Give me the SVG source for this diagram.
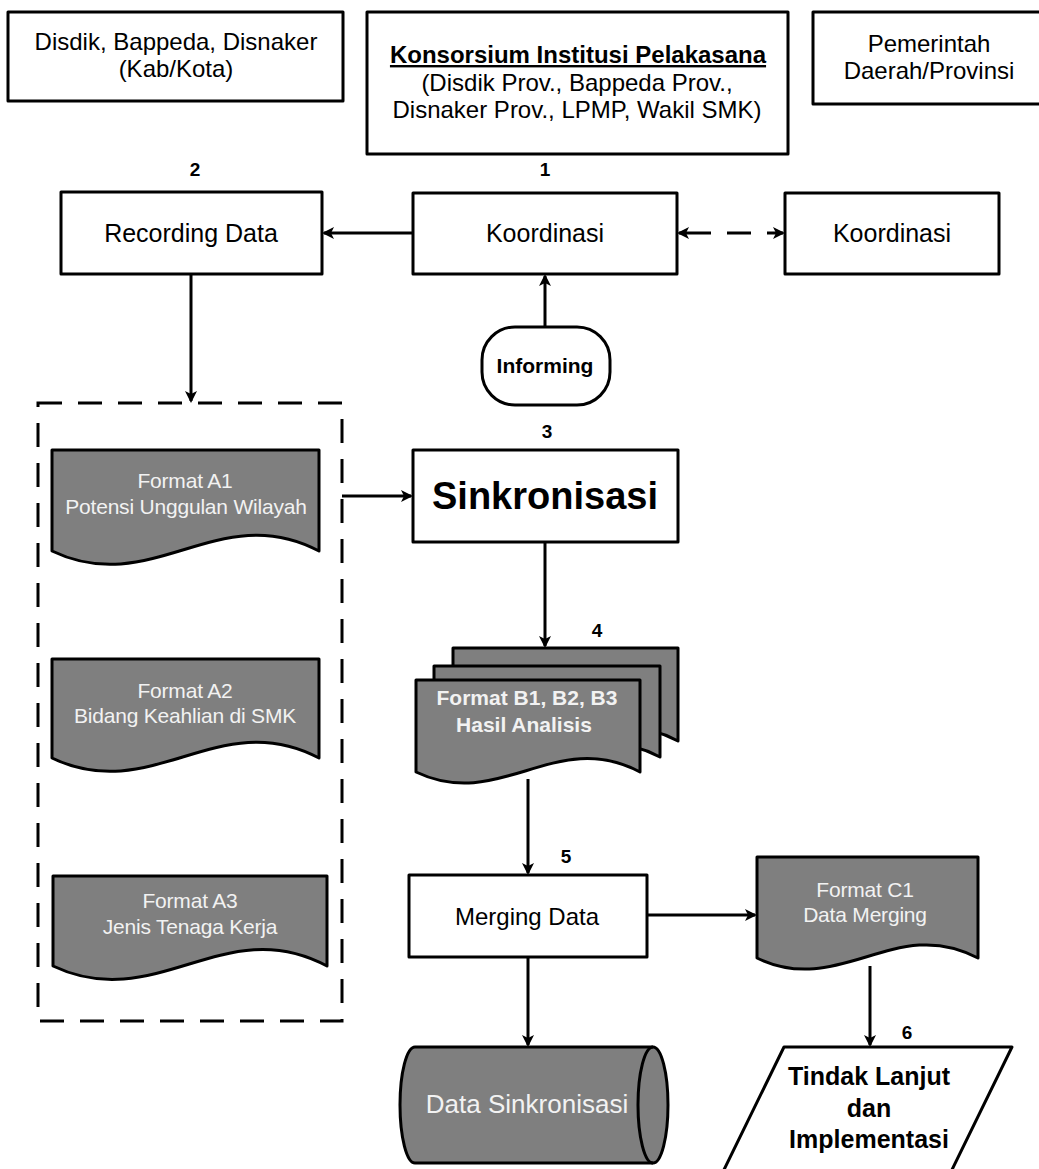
<svg xmlns="http://www.w3.org/2000/svg" width="1039" height="1169" viewBox="0 0 1039 1169">
<defs>
<style>
.box{fill:#fff;stroke:#000;stroke-width:3;stroke-linejoin:round}
.doc{fill:#7f7f7f;stroke:#000;stroke-width:3;stroke-linejoin:round}
.t{font-family:"Liberation Sans",Arial,sans-serif;fill:#000;text-anchor:middle}
.b{font-weight:bold}
.w{fill:#f2f2f2}
.dt{font-size:21px;letter-spacing:-0.2px}
.num{font-family:"Liberation Sans",Arial,sans-serif;font-weight:bold;font-size:19px;text-anchor:middle}
.c{fill:none;stroke:#000;stroke-width:3}
.ca{fill:none;stroke:#000;stroke-width:3;marker-end:url(#ah)}
</style>
<marker id="ah" viewBox="0 0 12 12" refX="10" refY="6" markerWidth="12" markerHeight="12" markerUnits="userSpaceOnUse" orient="auto-start-reverse">
<path d="M0,0 L12,6 L0,12 L3,6 Z" fill="#000"/>
</marker>
</defs>
<rect width="1039" height="1169" fill="#fff"/>

<g id="disdik-kab">
<rect class="box" x="8" y="12" width="335" height="89"/>
<text class="t" x="176" y="50" font-size="24">Disdik, Bappeda, Disnaker</text>
<text class="t" x="176" y="77" font-size="24">(Kab/Kota)</text>
</g>

<g id="konsorsium">
<rect class="box" x="367" y="12" width="421" height="142"/>
<text class="t b" x="578" y="63" font-size="24" text-decoration="underline">Konsorsium Institusi Pelakasana</text>
<text class="t" x="577" y="91" font-size="24">(Disdik Prov., Bappeda Prov.,</text>
<text class="t" x="577" y="118" font-size="24">Disnaker Prov., LPMP, Wakil SMK)</text>
</g>

<g id="pemerintah">
<rect class="box" x="813" y="12" width="232" height="92"/>
<text class="t" x="929" y="52" font-size="24">Pemerintah</text>
<text class="t" x="929" y="79" font-size="24">Daerah/Provinsi</text>
</g>

<g id="recording">
<text class="num" x="195" y="176">2</text>
<rect class="box" x="61" y="192" width="261" height="82"/>
<text class="t" x="191" y="242" font-size="25">Recording Data</text>
</g>

<g id="koordinasi1">
<text class="num" x="545" y="176">1</text>
<rect class="box" x="413" y="193" width="264" height="81"/>
<text class="t" x="545" y="242" font-size="25">Koordinasi</text>
</g>

<g id="koordinasi2">
<rect class="box" x="785" y="193" width="214" height="81"/>
<text class="t" x="892" y="242" font-size="25">Koordinasi</text>
</g>

<g id="informing">
<rect class="box" x="482" y="327" width="128" height="78" rx="33" ry="33"/>
<text class="t b" x="545" y="373" font-size="21">Informing</text>
</g>

<g id="format-group">
<rect x="38" y="403" width="304" height="618" fill="none" stroke="#000" stroke-width="3" stroke-dasharray="24 16"/>
</g>

<g id="formatA1">
<path class="doc" d="M52,450 H319 V551 C219,498 152,599 52,551 Z"/>
<text class="t w dt" x="185" y="488">Format A1</text>
<text class="t w dt" x="186" y="514">Potensi Unggulan Wilayah</text>
</g>

<g id="formatA2">
<path class="doc" d="M52,659 H319 V758 C219,705 152,806 52,758 Z"/>
<text class="t w dt" x="185" y="698">Format A2</text>
<text class="t w dt" x="185" y="723">Bidang Keahlian di SMK</text>
</g>

<g id="formatA3">
<path class="doc" d="M53,876 H327 V966 C224,911 156,1015 53,966 Z"/>
<text class="t w dt" x="190" y="908">Format A3</text>
<text class="t w dt" x="190" y="934">Jenis Tenaga Kerja</text>
</g>

<g id="sinkronisasi">
<text class="num" x="547" y="438">3</text>
<rect class="box" x="413" y="450" width="265" height="92"/>
<text class="t b" x="545" y="509" font-size="38">Sinkronisasi</text>
</g>

<g id="formatB">
<text class="num" x="597" y="637">4</text>
<path class="doc" d="M453,648 H678 V741 C594,696 537,782 453,741 Z"/>
<path class="doc" d="M434,666 H660 V757 C575,712 519,798 434,757 Z"/>
<path class="doc" d="M416,680 H640 V772 C556,727 500,812 416,772 Z"/>
<text class="t w b" x="527" y="705" font-size="21">Format B1, B2, B3</text>
<text class="t w b" x="524" y="732" font-size="21">Hasil Analisis</text>
</g>

<g id="merging">
<text class="num" x="566" y="863">5</text>
<rect class="box" x="409" y="875" width="238" height="82"/>
<text class="t" x="527" y="925" font-size="24">Merging Data</text>
</g>

<g id="formatC1">
<path class="doc" d="M757,857 H978 V958 C895,914 840,998 757,958 Z"/>
<text class="t w dt" x="865" y="897">Format C1</text>
<text class="t w dt" x="865" y="922">Data Merging</text>
</g>

<g id="data-sinkronisasi">
<path class="doc" d="M415,1047 H653 A15,58 0 0 1 653,1163 H415 A15,58 0 0 1 415,1047 Z"/>
<path class="c" d="M653,1047 A15,58 0 0 0 653,1163"/>
<text class="t w" x="527" y="1113" font-size="26">Data Sinkronisasi</text>
</g>

<g id="tindak-lanjut">
<text class="num" x="907" y="1039">6</text>
<polygon class="box" points="784,1047 1012,1047 946,1182 718,1182"/>
<text class="t b" x="869" y="1085" font-size="25">Tindak Lanjut</text>
<text class="t b" x="869" y="1117" font-size="25">dan</text>
<text class="t b" x="869" y="1148" font-size="25">Implementasi</text>
</g>

<g id="connectors">
<line class="ca" x1="413" y1="233" x2="324" y2="233"/>
<line x1="679" y1="233" x2="783" y2="233" stroke="#000" stroke-width="3" stroke-dasharray="32 16 24 16 30" marker-start="url(#ah)" marker-end="url(#ah)"/>
<line class="ca" x1="545" y1="327" x2="545" y2="276"/>
<line class="ca" x1="191" y1="274" x2="191" y2="401"/>
<line class="ca" x1="342" y1="496" x2="411" y2="496"/>
<line class="ca" x1="545" y1="542" x2="545" y2="646"/>
<line class="ca" x1="528" y1="779" x2="528" y2="873"/>
<line class="ca" x1="647" y1="915" x2="755" y2="915"/>
<line class="ca" x1="528" y1="957" x2="528" y2="1045"/>
<line class="ca" x1="870" y1="966" x2="870" y2="1045"/>
</g>
</svg>
